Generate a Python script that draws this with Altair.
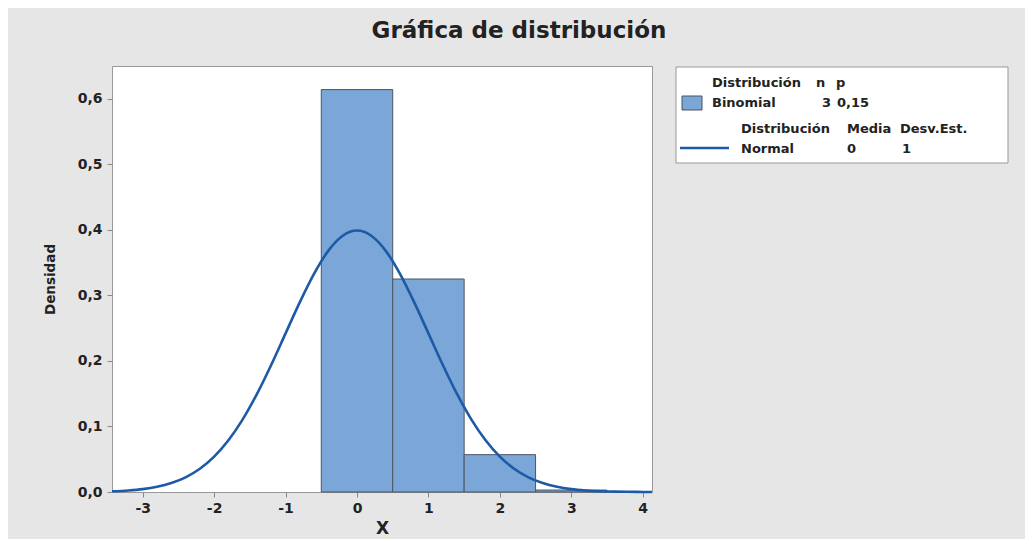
import altair as alt
import pandas as pd

# Binomial(n=3, p=0.15) probabilities
bin_x = [0, 1, 2, 3]
bin_p = [0.614, 0.325, 0.057, 0.003]

# Normal(0,1) curve points
norm_x = [-3.43, -3.2, -3.0, -2.8, -2.6, -2.4, -2.2, -2.0, -1.8, -1.6, -1.4, -1.2, -1.0,
          -0.8, -0.6, -0.4, -0.2, 0.0, 0.2, 0.4, 0.6, 0.8, 1.0, 1.2, 1.4, 1.6, 1.8,
          2.0, 2.2, 2.4, 2.6, 2.8, 3.0, 3.2, 3.4, 3.6, 3.8, 4.0, 4.13]
norm_y = [0.0011, 0.0024, 0.0044, 0.0079, 0.0136, 0.0224, 0.0355, 0.0540, 0.0790, 0.1109,
          0.1497, 0.1942, 0.2420, 0.2897, 0.3332, 0.3683, 0.3910, 0.3989, 0.3910, 0.3683,
          0.3332, 0.2897, 0.2420, 0.1942, 0.1497, 0.1109, 0.0790, 0.0540, 0.0355, 0.0224,
          0.0136, 0.0079, 0.0044, 0.0024, 0.0012, 0.0006, 0.0003, 0.0001, 0.0001]

x_ticks = [-3, -2, -1, 0, 1, 2, 3, 4]
y_ticks = [0.0, 0.1, 0.2, 0.3, 0.4, 0.5, 0.6]

FONT = "DejaVu Sans"
BAR_FILL = "#7ba6d8"
CURVE = "#1d5aa6"
TXT = "#222222"

bars = pd.DataFrame({"x": bin_x, "p": bin_p})
bars["x0"] = bars["x"] - 0.5
bars["x1"] = bars["x"] + 0.5
curve = pd.DataFrame({"x": norm_x, "y": norm_y})

xs = alt.Scale(domain=[-3.43, 4.13], nice=False, zero=False)
ys = alt.Scale(domain=[0, 0.65], nice=False)

xaxis = alt.Axis(values=x_ticks, title="X", grid=False, labelFont=FONT, labelFontSize=14,
                 labelFontWeight="bold", labelColor=TXT, titleFont=FONT, titleFontSize=17,
                 titleFontWeight="bold", titleColor=TXT, tickColor="#888", tickSize=5,
                 domain=False, labelPadding=4, titlePadding=5,
                 labelExpr="datum.value + ''")
yaxis = alt.Axis(values=y_ticks, title="Densidad", grid=False, labelFont=FONT, labelFontSize=14,
                 labelFontWeight="bold", labelColor=TXT, titleFont=FONT, titleFontSize=13.5,
                 titleFontWeight="bold", titleColor=TXT, tickColor="#888", tickSize=5,
                 domain=False, labelPadding=5, titlePadding=20,
                 labelExpr="replace(format(datum.value, '.1f'), '.', ',')")

bar_layer = alt.Chart(bars).mark_rect(fill=BAR_FILL, stroke="#4d5560", strokeWidth=1).encode(
    x=alt.X("x0:Q", scale=xs, axis=xaxis),
    x2="x1:Q",
    y=alt.Y("p:Q", scale=ys, axis=yaxis),
    y2=alt.datum(0),
)

line_layer = alt.Chart(curve).mark_line(color=CURVE, strokeWidth=2.6, interpolate="monotone").encode(
    x=alt.X("x:Q", scale=xs),
    y=alt.Y("y:Q", scale=ys),
)

# Title and legend (drawn in pixel space around the plot area)
one = pd.DataFrame({"a": [0]})
OX, OY = 112, 66  # plot origin in page coords
def px(v):
    return v - OX
def py(v):
    return v - OY

title = alt.Chart(one).mark_text(text="Gráfica de distribución", font=FONT, fontSize=23,
                                 fontWeight="bold", color=TXT, align="center",
                                 baseline="alphabetic").encode(
    x=alt.value(px(519)), y=alt.value(py(38)))

box = alt.Chart(one).mark_rect(fill="white", stroke="#999", strokeWidth=1).encode(
    x=alt.value(px(676)), x2=alt.value(px(1008)), y=alt.value(py(67)), y2=alt.value(py(163)))
swatch = alt.Chart(one).mark_rect(fill=BAR_FILL, stroke="#4d5560", strokeWidth=1).encode(
    x=alt.value(px(682)), x2=alt.value(px(702)), y=alt.value(py(96)), y2=alt.value(py(110)))
leg_line = alt.Chart(one).mark_rule(color=CURVE, strokeWidth=2.5).encode(
    x=alt.value(px(680)), x2=alt.value(px(729)), y=alt.value(py(148)))

leg_texts = [
    ("Distribución", 712, 83), ("n", 816, 83), ("p", 836, 83),
    ("Binomial", 712, 103), ("3", 822, 103), ("0,15", 837, 103),
    ("Distribución", 741, 129), ("Media", 847, 129), ("Desv.Est.", 900, 129),
    ("Normal", 741, 149), ("0", 847, 149), ("1", 902, 149),
]
text_layers = [
    alt.Chart(one).mark_text(text=t, font=FONT, fontSize=13, fontWeight="bold", color=TXT,
                             align="left", baseline="middle").encode(
        x=alt.value(px(xx)), y=alt.value(py(yy)))
    for t, xx, yy in leg_texts
]

chart = alt.layer(bar_layer, line_layer, title, box, swatch, leg_line, *text_layers).properties(
    width=540, height=426,
    autosize=alt.AutoSizeParams(type="none"),
    padding={"left": 104, "top": 58, "right": 373, "bottom": 47},
).configure(background="#e6e6e6").configure_view(stroke="#999", strokeWidth=1, fill="white")

chart.save("out.html", embed_options={"renderer": "svg", "actions": False})
